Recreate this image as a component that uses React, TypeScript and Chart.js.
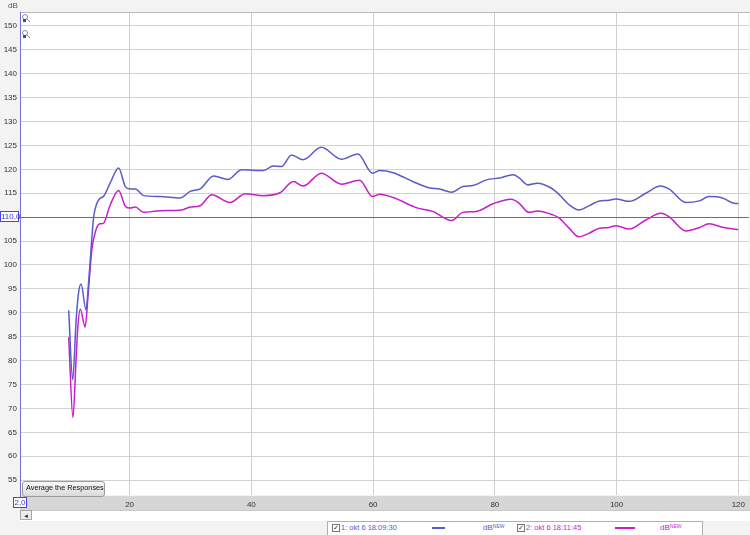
import React, { useEffect, useRef } from "react";
import { Chart, registerables } from "chart.js";

Chart.register(...registerables);

// ---- data ----
const blueFreq = [10.0, 10.66, 11.2, 11.6, 12.03, 12.85, 13.3, 14.1, 14.6, 15.2, 15.7, 16.8, 18.2, 19.3, 20.1, 20.95, 22.3, 25, 28.3, 29.95, 31.6, 33.8, 36.2, 38.4, 42, 43.6, 45, 46.6, 48.5, 51.5, 54.8, 57.5, 59.9, 61.1, 63.3, 66.6, 69.3, 70.9, 72.9, 74.75, 76.4, 78.6, 80.8, 83, 84, 85.4, 87, 89.25, 90.6, 92.2, 93.8, 95.5, 97.2, 98.5, 99.9, 102.1, 104.8, 107.2, 108.6, 111.4, 113.6, 115.2, 117.4, 119.3, 120];
const blueDb = [90.5, 76, 88, 94, 96, 90.6, 96.9, 110, 112.8, 114, 114.3, 117.1, 120.3, 116.4, 115.9, 115.9, 114.5, 114.3, 114.0, 115.4, 115.9, 118.6, 117.9, 119.9, 119.75, 120.7, 120.6, 123.0, 122.0, 124.6, 122.1, 123.2, 119.2, 119.75, 119.3, 117.4, 116.1, 115.9, 115.2, 116.4, 116.6, 117.8, 118.2, 118.85, 118.2, 116.75, 117.1, 116.1, 114.7, 112.6, 111.5, 112.4, 113.4, 113.5, 113.8, 113.3, 115.0, 116.5, 115.9, 113.05, 113.4, 114.3, 114.0, 112.9, 112.85];

const magFreq = [10.0, 10.7, 11.2, 11.5, 11.9, 12.7, 13.2, 13.8, 14.4, 15.1, 15.7, 16.8, 18.2, 19.3, 20.1, 20.95, 22.3, 24.5, 27.2, 28.6, 29.95, 31.6, 33.5, 36.5, 39, 42, 44.7, 46.9, 48.5, 51.5, 54.8, 57.8, 59.9, 61.1, 63.3, 67.1, 69.8, 72.9, 74.75, 76.95, 79.7, 82.7, 84, 85.6, 87, 89.5, 90.6, 92.2, 93.8, 95.5, 97.2, 98.5, 99.9, 102.1, 104.8, 107.3, 108.6, 111.4, 113.6, 115.2, 117.4, 119.3, 120];
const magDb = [84.9, 68.1, 80, 87, 90.75, 87, 94, 103.2, 107, 108.6, 108.7, 112.5, 115.6, 112.3, 111.9, 112.1, 111.0, 111.3, 111.4, 111.5, 112.1, 112.4, 114.7, 113.05, 114.9, 114.5, 115.1, 117.45, 116.5, 119.2, 116.9, 117.7, 114.3, 114.8, 114.1, 112.0, 111.2, 109.3, 111.0, 111.2, 112.8, 113.75, 112.9, 111.0, 111.3, 110.5, 109.8, 107.7, 105.9, 106.65, 107.7, 107.8, 108.2, 107.5, 109.4, 110.8, 110.1, 107.1, 107.8, 108.6, 107.9, 107.5, 107.4];

const xTicks = [20, 40, 60, 80, 100, 120];
const yTicks = [55, 60, 65, 70, 75, 80, 85, 90, 95, 100, 105, 110, 115, 120, 125, 130, 135, 140, 145, 150];
const referenceLevel = 110;
const seriesNames = ["1: okt 6 18:09:30", "2: okt 6 18:11:45"];
const seriesColors = ["#5a5ac8", "#c81ec8"];

const X_MIN = 2.0;
const X_MAX = 121.7;
const Y_MIN = 51.9;
const Y_MAX = 152.9;

const FONT = "'Liberation Sans', Arial, sans-serif";

const bgPlugin = {
  id: "bgPlugin",
  beforeDraw(chart: any) {
    const { ctx, chartArea } = chart;
    ctx.save();
    ctx.fillStyle = "#f3f3f3";
    ctx.fillRect(0, 0, chart.width, chart.height);
    ctx.fillStyle = "#ffffff";
    ctx.fillRect(chartArea.left, chartArea.top, chartArea.right - chartArea.left, chartArea.bottom - chartArea.top);
    ctx.fillStyle = "#d6d6d6";
    ctx.fillRect(chartArea.left, chartArea.bottom + 1, chart.width - chartArea.left, 14);
    ctx.restore();
  },
  afterDraw(chart: any) {
    const { ctx, chartArea, scales } = chart;
    const y = Math.round(scales.y.getPixelForValue(referenceLevel));
    ctx.save();
    ctx.fillStyle = "#5a5aff";
    ctx.fillRect(0, y, chartArea.right, 1);
    ctx.fillStyle = "#7070d8";
    ctx.fillRect(chartArea.left, chartArea.top, 1, chartArea.bottom + 4 - chartArea.top);
    ctx.fillStyle = "#b8b8b8";
    ctx.fillRect(chartArea.left + 1, chartArea.top, chartArea.right - chartArea.left, 1);
    const icons = [[25, 19], [25, 35]];
    icons.forEach(([ix, iy]) => {
      ctx.strokeStyle = "#8a8aa8";
      ctx.lineWidth = 1;
      ctx.beginPath();
      ctx.arc(ix, iy - 2, 2.5, 0, Math.PI * 2);
      ctx.stroke();
      ctx.beginPath();
      ctx.moveTo(ix + 2, iy);
      ctx.lineTo(ix + 5, iy + 3);
      ctx.stroke();
      ctx.fillStyle = "#3050a0";
      ctx.fillRect(ix - 2, iy, 3, 3);
    });
    ctx.restore();
  },
};

function ChartCanvas() {
  const ref = useRef<HTMLCanvasElement | null>(null);
  useEffect(() => {
    if (!ref.current) return;
    const toPts = (xs: number[], ys: number[]) => xs.map((x, i) => ({ x, y: ys[i] }));
    const chart = new Chart(ref.current, {
      type: "line",
      data: {
        datasets: [
          {
            label: seriesNames[0],
            data: toPts(blueFreq, blueDb),
            borderColor: seriesColors[0],
            borderWidth: 1.5,
            pointRadius: 0,
            cubicInterpolationMode: "monotone",
          },
          {
            label: seriesNames[1],
            data: toPts(magFreq, magDb),
            borderColor: seriesColors[1],
            borderWidth: 1.5,
            pointRadius: 0,
            cubicInterpolationMode: "monotone",
          },
        ],
      },
      options: {
        animation: false,
        responsive: false,
        devicePixelRatio: 1,
        layout: { padding: { left: 0, right: 0, top: 12, bottom: 0 } },
        plugins: { legend: { display: false }, tooltip: { enabled: false } },
        scales: {
          x: {
            type: "linear",
            min: X_MIN,
            max: X_MAX,
            border: { display: false },
            grid: { color: "#cfcfcf", drawTicks: false, lineWidth: 1 },
            afterBuildTicks: (s: any) => {
              s.ticks = xTicks.map((v) => ({ value: v }));
            },
            afterFit: (s: any) => {
              s.height = 40;
            },
            ticks: {
              padding: 5,
              color: "#333",
              font: { family: FONT, size: 8 },
              maxRotation: 0,
              callback: (v: any) => String(v),
            },
          },
          y: {
            type: "linear",
            min: Y_MIN,
            max: Y_MAX,
            border: { display: false },
            grid: {
              color: (c: any) => (c.tick && c.tick.value === referenceLevel ? "rgba(0,0,0,0)" : "#d2d2d2"),
              drawTicks: false,
              lineWidth: 1,
            },
            afterBuildTicks: (s: any) => {
              s.ticks = yTicks.map((v) => ({ value: v }));
            },
            afterFit: (s: any) => {
              s.width = 20;
            },
            ticks: {
              padding: 3,
              color: "#333",
              font: { family: FONT, size: 8 },
              callback: (v: any) => (v === referenceLevel ? "" : String(v)),
            },
          },
        },
      },
      plugins: [bgPlugin],
    } as any);
    return () => chart.destroy();
  }, []);
  return <canvas ref={ref} width={750} height={535} style={{ display: "block", width: 750, height: 535 }} />;
}

const small: React.CSSProperties = { fontFamily: FONT, fontSize: 8, position: "absolute", lineHeight: 1, whiteSpace: "nowrap" };

export default function App() {
  return (
    <div style={{ position: "fixed", left: 0, top: 0, width: 750, height: 535, overflow: "hidden" }}>
      <ChartCanvas />
      <div style={{ ...small, left: 8, top: 2, color: "#555" }}>dB</div>
      <div
        style={{
          ...small,
          left: 0,
          top: 211,
          width: 19,
          height: 11,
          lineHeight: "9px",
          textAlign: "center",
          border: "1px solid #4646d8",
          background: "#fff",
          color: "#3c3cd0",
          boxSizing: "border-box",
        }}
      >
        110,0
      </div>
      <div
        style={{
          ...small,
          left: 13,
          top: 497,
          width: 14,
          height: 11,
          lineHeight: "9px",
          textAlign: "center",
          border: "1px solid #4646d8",
          background: "#fff",
          color: "#3c3cd0",
          boxSizing: "border-box",
        }}
      >
        2,0
      </div>
      <div
        style={{
          ...small,
          left: 22,
          top: 481,
          width: 75,
          height: 14,
          fontSize: 7.3,
          lineHeight: "12px",
          padding: "0 3px",
          border: "1px solid #9a9a9a",
          borderRadius: 3,
          background: "linear-gradient(#f8f8f8, #dadada)",
          color: "#111",
        }}
      >
        Average the Responses
      </div>
      <div style={{ position: "absolute", left: 20, top: 510, width: 730, height: 10, background: "#fff", borderTop: "1px solid #c8c8c8" }} />
      <div
        style={{
          ...small,
          left: 20,
          top: 510,
          width: 12,
          height: 10,
          fontSize: 6,
          lineHeight: "10px",
          textAlign: "center",
          border: "1px solid #a8a8a8",
          background: "#ececec",
          boxSizing: "border-box",
          color: "#333",
        }}
      >
        ◄
      </div>
      <div style={{ position: "absolute", left: 327, top: 521, width: 376, height: 16, background: "#fff", border: "1px solid #b0b0b0", boxSizing: "border-box" }} />
      {seriesNames.map((name, i) => {
        const base = i === 0 ? 332 : 517;
        const lineL = i === 0 ? 432 : 615;
        const lineW = i === 0 ? 13 : 20;
        const dbL = i === 0 ? 483 : 660;
        return (
          <React.Fragment key={name}>
            <div
              style={{
                position: "absolute",
                left: base,
                top: 524,
                width: 8,
                height: 8,
                border: "1px solid #777",
                background: "#fff",
                boxSizing: "border-box",
                fontSize: 7,
                lineHeight: "6px",
                textAlign: "center",
                color: "#333",
                fontFamily: FONT,
              }}
            >
              ✓
            </div>
            <div style={{ ...small, left: base + 9, top: 524, color: seriesColors[i], fontSize: 7.5 }}>{name}</div>
            <div style={{ position: "absolute", left: lineL, top: 527, width: lineW, height: 2, background: seriesColors[i] }} />
            <div style={{ ...small, left: dbL, top: 524, color: seriesColors[i], fontSize: 8 }}>
              dB<sup style={{ fontSize: 5, verticalAlign: "top" }}>NEW</sup>
            </div>
          </React.Fragment>
        );
      })}
    </div>
  );
}
